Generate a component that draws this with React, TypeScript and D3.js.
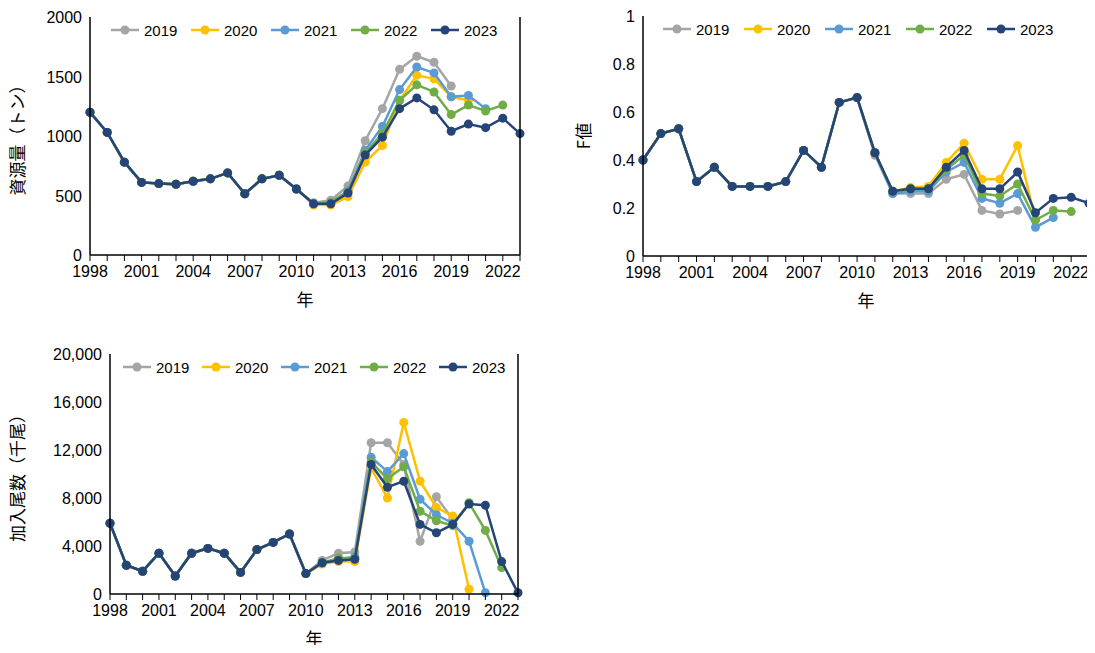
import * as d3 from 'd3';
import * as React from 'react';

const years = d3.range(1998, 2024);
const seriesNames = ['2019', '2020', '2021', '2022', '2023'];
const colors = ['#a5a5a5', '#ffc000', '#5b9bd5', '#70ad47', '#254478'];

// shared history 1998-2010
const bioBase = [1200, 1030, 780, 610, 600, 595, 620, 640, 690, 515, 640, 670, 555];
const bio2019 = [440, 460, 580, 960, 1230, 1560, 1670, 1620, 1420];
const bio2020 = [420, 420, 490, 780, 920, 1300, 1510, 1480, 1330, 1300];
const bio2021 = [430, 440, 540, 880, 1080, 1390, 1580, 1530, 1330, 1340, 1230];
const bio2022 = [430, 440, 530, 860, 1020, 1300, 1430, 1370, 1180, 1260, 1210, 1260];
const bio2023 = [430, 430, 520, 840, 990, 1230, 1320, 1220, 1040, 1100, 1070, 1150, 1020];

const fBase = [0.4, 0.51, 0.53, 0.31, 0.37, 0.29, 0.29, 0.29, 0.31, 0.44, 0.37, 0.64, 0.66];
const f2019 = [0.42, 0.26, 0.26, 0.26, 0.32, 0.34, 0.19, 0.175, 0.19];
const f2020 = [0.43, 0.27, 0.285, 0.29, 0.39, 0.47, 0.32, 0.32, 0.46, 0.15];
const f2021 = [0.43, 0.26, 0.27, 0.27, 0.35, 0.39, 0.24, 0.22, 0.26, 0.12, 0.16];
const f2022 = [0.43, 0.27, 0.28, 0.28, 0.36, 0.42, 0.26, 0.25, 0.3, 0.15, 0.19, 0.185];
const f2023 = [0.43, 0.27, 0.28, 0.28, 0.37, 0.44, 0.28, 0.28, 0.35, 0.18, 0.24, 0.245, 0.22];

const recBase = [5900, 2400, 1900, 3400, 1500, 3400, 3800, 3400, 1800, 3700, 4300, 5000, 1700];
const rec2019 = [2800, 3400, 3500, 12600, 12600, 10800, 4400, 8100, 6200];
const rec2020 = [2500, 2700, 2700, 10500, 8000, 14300, 9400, 7200, 6500, 400];
const rec2021 = [2600, 2900, 3100, 11400, 10200, 11700, 7900, 6600, 5900, 4400, 100];
const rec2022 = [2600, 3000, 3000, 11000, 9600, 10600, 6900, 6100, 5700, 7600, 5300, 2200];
const rec2023 = [2600, 2800, 2900, 10800, 8900, 9400, 5800, 5100, 5800, 7500, 7400, 2700, 100];

const xTicks = [1998, 2001, 2004, 2007, 2010, 2013, 2016, 2019, 2022];
const font = '"Liberation Sans", Arial, sans-serif';

interface ChartProps {
  left: number; right: number; top: number; bottom: number;
  yMax: number; yStep: number; yFmt: (v: number) => string;
  yLabel: string; yLabelX: number; base: number[]; tails: number[][];
  legendX: number; legendGap: number;
}

const Chart: React.FC<ChartProps> = (p) => {
  const x = d3.scaleLinear().domain([1998, 2023]).range([p.left, p.right]);
  const y = d3.scaleLinear().domain([0, p.yMax]).range([p.bottom, p.top]);
  const line = d3.line<[number, number]>().x((d) => x(d[0])).y((d) => y(d[1]));
  const series = p.tails.map((t) => [...p.base, ...t].map((v, i) => [years[i], v] as [number, number]));
  const yTicks = d3.range(0, p.yMax + p.yStep / 2, p.yStep);
  return (
    <g fontFamily={font} fill="#000">
      {yTicks.map((t) => (
        <text key={t} x={p.left - 8} y={y(t) + 6} textAnchor="end" fontSize={16}>{p.yFmt(t)}</text>
      ))}
      {series.map((s, i) => (
        <g key={i}>
          <path d={line(s) ?? ''} fill="none" stroke={colors[i]} strokeWidth={2.5} />
          {s.map((d, j) => (
            <circle key={j} cx={x(d[0])} cy={y(d[1])} r={4.5} fill={colors[i]} />
          ))}
        </g>
      ))}
      <line x1={p.left} x2={p.left} y1={p.top} y2={p.bottom} stroke="#000" strokeWidth={1.5} />
      <line x1={p.right} x2={p.right} y1={p.top} y2={p.bottom} stroke="#000" strokeWidth={1.5} />
      <line x1={p.left} x2={p.right} y1={p.bottom} y2={p.bottom} stroke="#000" strokeWidth={1.5} />
      {years.map((yr) => (
        <line key={yr} x1={x(yr)} x2={x(yr)} y1={p.bottom} y2={p.bottom + 6} stroke="#000" />
      ))}
      {xTicks.map((t) => (
        <text key={t} x={x(t)} y={p.bottom + 22} textAnchor="middle" fontSize={16}>{t}</text>
      ))}
      <text x={(p.left + p.right) / 2} y={p.bottom + 51} textAnchor="middle" fontSize={17}
        fontFamily='"Noto Sans CJK JP", sans-serif'>年</text>
      <text transform={`translate(${p.yLabelX},${(p.top + p.bottom) / 2}) rotate(-90)`} textAnchor="middle"
        fontSize={17} fontFamily='"Noto Sans CJK JP", sans-serif'>{p.yLabel}</text>
      {seriesNames.map((n, i) => {
        const lx = p.legendX + i * p.legendGap;
        return (
          <g key={n}>
            <line x1={lx} x2={lx + 28} y1={p.top + 13} y2={p.top + 13} stroke={colors[i]} strokeWidth={2.5} />
            <circle cx={lx + 14} cy={p.top + 13} r={4.5} fill={colors[i]} />
            <text x={lx + 33} y={p.top + 19} fontSize={15}>{n}</text>
          </g>
        );
      })}
    </g>
  );
};

export default function App() {
  return (
    <svg width={1095} height={653} style={{ display: 'block', margin: -8 }}>
      <rect width={1095} height={653} fill="#fff" />
      <Chart left={90} right={520} top={17} bottom={255} yMax={2000} yStep={500} yFmt={(v) => String(v)}
        yLabel="資源量（トン）" yLabelX={24} base={bioBase} tails={[bio2019, bio2020, bio2021, bio2022, bio2023]}
        legendX={111} legendGap={80} />
      <Chart left={643} right={1089} top={16} bottom={256} yMax={1} yStep={0.2} yFmt={(v) => d3.format('.1~f')(v)}
        yLabel="F値" yLabelX={590} base={fBase} tails={[f2019, f2020, f2021, f2022, f2023]}
        legendX={663} legendGap={81} />
      <Chart left={110} right={518} top={354} bottom={594} yMax={20000} yStep={4000} yFmt={d3.format(',')}
        yLabel="加入尾数（千尾）" yLabelX={24} base={recBase} tails={[rec2019, rec2020, rec2021, rec2022, rec2023]}
        legendX={123} legendGap={79} />
    </svg>
  );
}
